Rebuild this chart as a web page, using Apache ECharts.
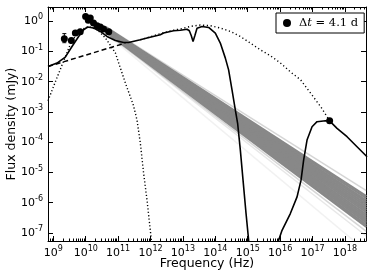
<!DOCTYPE html>
<html><head><meta charset="utf-8">
<script src="https://cdn.jsdelivr.net/npm/echarts@6/dist/echarts.min.js"></script>
<style>html,body{margin:0;padding:0;background:#fff}#c{width:374px;height:280px}</style>
</head><body><div id="c"></div>
<script>
// All values are log10: x = log10(Frequency / Hz), y = log10(Flux density / mJy)
const xMajorTicks = [9,10,11,12,13,14,15,16,17,18];
const yMajorTicks = [0,-1,-2,-3,-4,-5,-6,-7];
const xMinorMult = [2,3,4,5,6,7,8,9];

// Radio data points [logNu, logF]
const radioPts = [[9.34,-0.58],[9.556,-0.636],[9.68,-0.39],[9.83,-0.35],[9.997,0.16],[10.08,0.03],[10.14,0.106],[10.24,-0.06],[10.35,-0.15],[10.45,-0.19],[10.55,-0.26],[10.71,-0.35]];
// error bar [logNu, low, high]
const radioErr = [[9.34,-0.71,-0.41]];
// X-ray point
const xrayPts = [[17.528,-3.288]];

// Dotted thermal bump (left)
const dottedLeft = [[8.836,-2.63],[9.062,-2.005],[9.309,-1.342],[9.556,-0.679],[9.833,-0.282],[10.111,-0.182],[10.358,-0.282],[10.605,-0.547],[10.914,-1.044],[11.222,-2.038],[11.469,-2.768],[11.583,-3.265],[11.685,-4.027],[11.787,-5.022],[11.892,-5.917],[11.994,-6.911],[12.025,-7.241],[12.04,-7.44]];
// Dashed power law
const dashedLine = [[8.836,-1.498],[11.222,-0.723]];
// Solid model, low-frequency part
const solidLow = [[8.836,-1.498],[9.114,-1.385],[9.37,-1.187],[9.577,-0.835],[9.781,-0.504],[9.935,-0.282],[10.059,-0.192],[10.244,-0.225],[10.451,-0.338],[10.657,-0.504],[10.914,-0.636],[11.17,-0.703],[11.324,-0.703],[11.685,-0.613],[11.892,-0.557],[12.302,-0.447],[12.404,-0.391],[12.713,-0.315],[12.92,-0.3],[13.127,-0.265],[13.198,-0.315],[13.259,-0.481],[13.312,-0.67],[13.367,-0.481],[13.435,-0.232],[13.59,-0.172],[13.793,-0.206],[14.0,-0.391],[14.154,-0.723],[14.309,-1.22],[14.41,-1.608],[14.515,-2.27],[14.617,-2.933],[14.688,-3.374],[14.772,-4.259],[14.855,-5.254],[14.948,-6.357],[15.028,-7.241],[15.05,-7.45]];
// Solid model, X-ray part
const solidHigh = [[15.93,-7.45],[15.954,-7.241],[16.059,-6.911],[16.315,-6.357],[16.522,-5.807],[16.645,-5.253],[16.725,-4.59],[16.83,-3.927],[16.985,-3.487],[17.139,-3.321],[17.395,-3.288],[17.549,-3.321],[17.756,-3.54],[18.065,-3.818],[18.373,-4.15],[18.682,-4.481]];
// Dotted model (right)
const dottedRight = [[11.685,-0.613],[12.3,-0.414],[12.765,-0.282],[12.92,-0.259],[13.228,-0.172],[13.537,-0.126],[13.846,-0.149],[14.154,-0.225],[14.463,-0.338],[14.772,-0.504],[15.08,-0.723],[15.389,-0.945],[15.698,-1.14],[16.006,-1.376],[16.315,-1.674],[16.633,-1.939],[16.941,-2.38],[17.25,-2.824],[17.528,-3.288]];

// Gray band of power-law lines: start/end log flux at fixed logNu
const bandX0 = 10.62, bandX1 = 18.66;
const bandStartLy = [-0.20,-0.21,-0.22,-0.23,-0.24,-0.25,-0.26,-0.27,-0.28,-0.29,-0.30,-0.31,-0.32,-0.33,-0.34,-0.35];
const bandEndLy   = [-5.78,-5.85,-5.92,-5.98,-6.05,-6.12,-6.19,-6.25,-6.32,-6.39,-6.46,-6.53,-6.59,-6.66,-6.73,-6.80];
const fringeStartLy = [-0.18,-0.37,-0.38,-0.40];
const fringeEndLy   = [-5.60,-6.95,-7.10,-7.60];
const fringeAlpha   = [0.35,0.35,0.2,0.12];

const xMin = 8.836, xMax = 18.65, yMin = -7.265, yMax = 0.47;
const xMinor = [];
for (let n = 8; n <= 18; n++) for (const k of xMinorMult) { const v = n + Math.log10(k); if (v > xMin && v < xMax) xMinor.push(v); }

const FONT = 'DejaVu Sans';
const sup = v => '{b|10}{s|' + v + '}';
const richLab = { b: {fontSize: 11, fontFamily: FONT, color: '#000'}, s: {fontSize: 8, fontFamily: FONT, color: '#000', padding: [0,0,8,0]} };

function mkX(pos, ticks, len, labels, line) {
  return { type: 'value', position: pos, min: xMin, max: xMax, gridIndex: 0,
    axisLine: {show: line, onZero: false, lineStyle: {color: '#000', width: 1}},
    axisTick: {show: true, inside: true, length: len, customValues: ticks, lineStyle: {color: '#000', width: 1}},
    axisLabel: labels ? {show: true, customValues: xMajorTicks, formatter: sup, rich: richLab, margin: 4} : {show: false},
    splitLine: {show: false} };
}
function mkY(pos, ticks, len, labels, line) {
  return { type: 'value', position: pos, min: yMin, max: yMax, gridIndex: 0,
    axisLine: {show: line, onZero: false, lineStyle: {color: '#000', width: 1}},
    axisTick: {show: true, inside: true, length: len, customValues: ticks, lineStyle: {color: '#000', width: 1}},
    axisLabel: labels ? {show: true, customValues: yMajorTicks, formatter: sup, rich: richLab, margin: 5} : {show: false},
    splitLine: {show: false} };
}

const xAxes = [mkX('bottom', xMajorTicks, 5, true, true), mkX('bottom', xMinor, 2.5, false, false), mkX('top', xMajorTicks, 5, false, true), mkX('top', xMinor, 2.5, false, false)];
xAxes[0].name = 'Frequency (Hz)'; xAxes[0].nameLocation = 'middle'; xAxes[0].nameGap = 16; xAxes[0].nameMoveOverlap = false;
xAxes[0].nameTextStyle = {fontFamily: FONT, fontSize: 12.5, color: '#000'};
const yAxes = [mkY('left', yMajorTicks, 5, true, true), mkY('right', yMajorTicks, 5, false, true)];
yAxes[0].name = 'Flux density (mJy)'; yAxes[0].nameLocation = 'middle'; yAxes[0].nameGap = 30; yAxes[0].nameMoveOverlap = false;
yAxes[0].nameTextStyle = {fontFamily: FONT, fontSize: 12.5, color: '#000'};

const series = [];
bandStartLy.forEach((s, i) => series.push({ type: 'line', xAxisIndex: 0, yAxisIndex: 0, data: [[bandX0, s],[bandX1, bandEndLy[i]]], symbol: 'none', silent: true, lineStyle: {color: '#888', width: 2.2, opacity: 1}, z: 1 }));
fringeStartLy.forEach((s, i) => series.push({ type: 'line', data: [[bandX0, s],[bandX1, fringeEndLy[i]]], symbol: 'none', silent: true, lineStyle: {color: '#888', width: 1.5, opacity: fringeAlpha[i]}, z: 1 }));
const lineS = (data, type, w) => ({ type: 'line', data, symbol: 'none', silent: true, lineStyle: {color: '#000', width: w, type}, z: 3 });
series.push(lineS(dottedLeft, [1.2, 2.2], 1.4));
series.push(lineS(dottedRight, [1.2, 2.6], 1.4));
series.push(lineS(dashedLine, [5, 3], 1.5));
series.push(lineS(solidLow, 'solid', 1.6));
series.push(lineS(solidHigh, 'solid', 1.6));
series.push({ type: 'custom', data: radioErr, z: 4, silent: true,
  renderItem: (p, api) => { const x = api.value(0); const a = api.coord([x, api.value(1)]), b = api.coord([x, api.value(2)]);
    const st = {stroke: '#000', lineWidth: 1};
    return {type: 'group', children: [
      {type: 'line', shape: {x1: a[0], y1: a[1], x2: b[0], y2: b[1]}, style: st},
      {type: 'line', shape: {x1: a[0]-2, y1: a[1], x2: a[0]+2, y2: a[1]}, style: st},
      {type: 'line', shape: {x1: b[0]-2, y1: b[1], x2: b[0]+2, y2: b[1]}, style: st}]}; } });
series.push({ type: 'scatter', name: 'dt', data: radioPts.concat(xrayPts), symbol: 'circle', symbolSize: 7, itemStyle: {color: '#000', opacity: 1}, z: 5, silent: true });

const chart = echarts.init(document.getElementById('c'), null, {renderer: 'canvas'});
chart.setOption({
  animation: false,
  backgroundColor: '#fff',
  grid: {left: 48, top: 7, right: 8, bottom: 39, containLabel: false, outerBoundsMode: 'none'},
  legend: { show: true, data: [{name: 'dt', icon: 'circle', itemStyle: {color: '#000', opacity: 1}}], left: 276, top: 13, orient: 'horizontal',
    itemWidth: 14, itemHeight: 8, padding: [4, 6, 4, 7], borderColor: '#000', borderWidth: 1, borderRadius: 0, backgroundColor: '#fff',
    selectedMode: false,
    formatter: () => '{a|Δ}{i|t}{a| = 4.1 d}',
    textStyle: { rich: { a: {fontFamily: 'DejaVu Serif', fontSize: 11.5, color: '#000'}, i: {fontFamily: 'DejaVu Serif', fontStyle: 'italic', fontSize: 11.5, color: '#000'} } } },
  xAxis: xAxes, yAxis: yAxes, series
});
</script></body></html>
